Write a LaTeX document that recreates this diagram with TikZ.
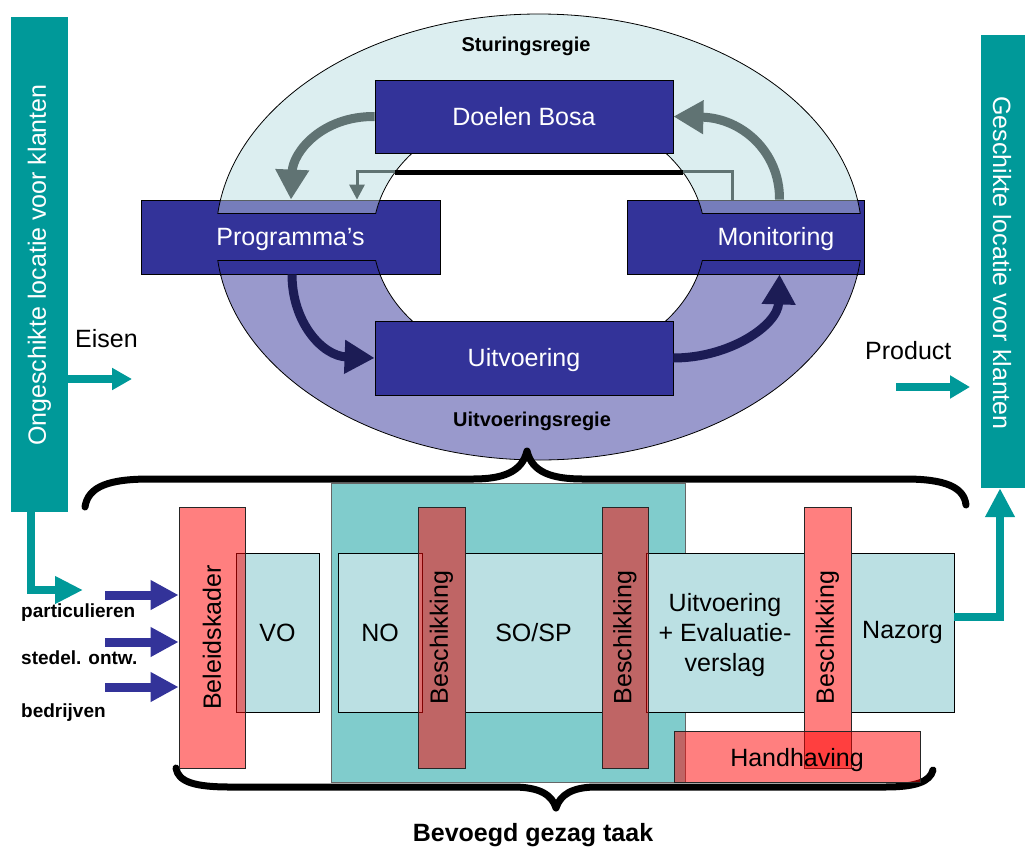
\documentclass[tikz,border=0pt]{standalone}
\usepackage{fontspec}
\setmainfont{Liberation Sans}
\usepackage{graphicx}
\usetikzlibrary{arrows.meta}
\definecolor{tealA}{HTML}{009999}
\definecolor{tealB}{HTML}{80CCCC}
\definecolor{boxlight}{HTML}{BBE0E3}
\definecolor{boxblue}{HTML}{333399}
\definecolor{ringlight}{HTML}{DCEEF0}
\definecolor{ringpurple}{HTML}{9999CC}
\definecolor{arrowgray}{HTML}{607373}
\definecolor{navyarrow}{HTML}{1C1C55}
\tikzset{
  bigfont/.style={font=\fontsize{25}{30}\selectfont},
  smallbold/.style={font=\fontsize{19}{22}\selectfont\bfseries},
  regiefont/.style={font=\fontsize{20}{24}\selectfont\bfseries},
  bluebox/.style={draw=black, line width=0.8pt, fill=boxblue, text=white, bigfont, inner sep=0pt},
  lightbox/.style={draw=black, line width=0.8pt, fill=boxlight, bigfont, inner sep=0pt, align=center},
  redbar/.style={draw=black!85, line width=0.8pt, fill=red, fill opacity=0.5, text opacity=1, bigfont, inner sep=0pt},
  tealbar/.style={fill=tealA, inner sep=0pt},
  ringp/.style={insert path={(539,237) ellipse [x radius=323pt, y radius=223pt] (539,237) ellipse [x radius=166pt, y radius=130pt]}},
  garrow/.style={draw=arrowgray, line width=9pt, -{Triangle[length=30pt,width=32pt]}},
  navyarr/.style={draw=navyarrow, line width=9pt, -{Triangle[length=30pt,width=32pt]}},
  thinarr/.style={draw=arrowgray, line width=3pt, -{Triangle[length=15pt,width=15pt]}},
  tealarr/.style={draw=tealA, line width=8pt, -{Triangle[length=20pt,width=21pt]}},
  bluearr/.style={draw=boxblue, line width=9pt, -{Triangle[length=28pt,width=28pt]}},
  bracestyle/.style={draw=black, line width=7pt, line cap=round, line join=round}
}
\newcommand{\lowertext}[2]{\raisebox{-#1}[\height][\depth]{#2}}
\begin{document}
\begin{tikzpicture}[x=1pt,y=-1pt]
\useasboundingbox (0,0) rectangle (1025,849);

% ---- ring ----
\begin{scope}
  \clip (0,0) rectangle (1025,237);
  \path[fill=ringlight, draw=black, line width=0.8pt, even odd rule, ringp];
\end{scope}
\begin{scope}
  \clip (0,237) rectangle (1025,849);
  \path[fill=ringpurple, draw=black, line width=0.8pt, even odd rule, ringp];
\end{scope}

% ---- blue boxes ----
\node[bluebox, minimum width=298pt, minimum height=73pt] (doelen) at (524,116.5) {Doelen Bosa};
\node[bluebox, minimum width=299pt, minimum height=74pt] (prog) at (290.5,237) {\lowertext{2.5pt}{Programma’s}};
\node[bluebox, minimum width=237pt, minimum height=74pt] (monit) at (745.5,237) {};
\node[text=white, bigfont, inner sep=0pt] (monittext) at (776,239) {Monitoring};
\node[bluebox, minimum width=298pt, minimum height=74pt] (uitv) at (524,358) {\lowertext{2.5pt}{Uitvoering}};

% ---- ring overlay on side boxes ----
\begin{scope}
  \clip (0,200) rectangle (1025,213);
  \path[fill=ringlight, fill opacity=0.4, draw=black, line width=0.8pt, even odd rule, ringp];
\end{scope}
\begin{scope}
  \clip (0,260) rectangle (1025,275);
  \path[draw=black, line width=0.8pt, ringp];
\end{scope}
\draw[line width=0.8pt] (217.9,213) -- (375.9,213) (702.1,213) -- (860.1,213);
\draw[line width=0.8pt] (217.7,260) -- (375.6,260) (702.4,260) -- (860.3,260);

% ---- feedback line ----
\draw[thinarr] ([xshift=-13.5pt]monit.north) -- ++(0,-28) -| ([xshift=66.5pt]prog.north);
\draw[line width=5pt] (395.2,172) -- (682.8,172);

% ---- cycle arrows ----
\draw[garrow] (doelen.west) .. controls (322,116) and (293,152) .. ([xshift=0.5pt]prog.north);
\draw[garrow] ([xshift=34pt]monit.north) .. controls (780,152) and (742,118) .. (doelen.east);
\draw[navyarr] ([xshift=1.5pt]prog.south) .. controls (292,322) and (322,356) .. (uitv.west);
\draw[navyarr] (uitv.east) .. controls (730,358) and (778,325) .. ([xshift=34pt]monit.south);

\node[regiefont] (sturing) at (526,46) {Sturingsregie};
\node[regiefont] (uitvregie) at (532,421) {Uitvoeringsregie};

% ---- side bars ----
\node[tealbar, minimum width=57pt, minimum height=495pt] (leftbar) at (39.5,264.5) {};
\node[text=white, bigfont, rotate=90] (lefttext) at (39.5,265) {Ongeschikte locatie voor klanten};
\node[tealbar, minimum width=44pt, minimum height=453pt] (rightbar) at (1003,261.5) {};
\node[text=white, bigfont, rotate=-90] (righttext) at (1002,263) {Geschikte locatie voor klanten};

\node[bigfont, anchor=base west, inner sep=0pt] (eisen) at (75,347) {Eisen};
\node[bigfont, anchor=base west, inner sep=0pt] (product) at (865,359) {Product};
\coordinate (eisentip) at (132,379);
\draw[tealarr] (leftbar.east |- eisentip) -- (eisentip);
\coordinate (prodstart) at (896,387);
\coordinate (prodtip) at (970,387);
\draw[tealarr, -{Triangle[length=20pt,width=22pt]}] (prodstart) -- (prodtip);

% ---- bottom section ----
\node[draw=black!60, line width=0.8pt, fill=tealB, minimum width=354pt, minimum height=299pt, inner sep=0pt] (tealarea) at (508,632.5) {};

\draw[bracestyle] (85,507) .. controls (88,486) and (110,479) .. (150,479) -- (473,479)
  .. controls (503,479) and (522,472) .. (527,451) .. controls (532,472) and (551,479) .. (583,479)
  -- (905,479) .. controls (945,479) and (964,487) .. (966,505);
\draw[bracestyle] (176,768) .. controls (178,782) and (195,787) .. (230,787) -- (513,787)
  .. controls (540,787) and (552,795) .. (556,808) .. controls (560,795) and (572,787) .. (596,787)
  -- (885,787) .. controls (915,787) and (930,782) .. (933,770);

\node[lightbox, minimum width=83pt, minimum height=159pt] (vo) at (277.5,632.5) {VO};
\node[lightbox, minimum width=84pt, minimum height=159pt] (no) at (380,632.5) {NO};
\node[lightbox, minimum width=137pt, minimum height=159pt] (sosp) at (533.5,632.5) {SO/SP};
\node[lightbox, minimum width=158pt, minimum height=159pt] (uitv2) at (725,632.5) {\lowertext{3pt}{\begin{tabular}{@{}c@{}}Uitvoering\\+ Evaluatie-\\verslag\end{tabular}}};
\node[lightbox, minimum width=103pt, minimum height=159pt] (nazorg) at (902.5,632.5) {Nazorg};

\node[redbar, minimum width=66pt, minimum height=261pt] (beleid) at (212,637.5) {\rotatebox{90}{Beleidskader}};
\node[redbar, minimum width=47pt, minimum height=261pt] (besch1) at (441.5,637.5) {\rotatebox{90}{Beschikking}};
\node[redbar, minimum width=46pt, minimum height=261pt] (besch2) at (625,637.5) {\rotatebox{90}{Beschikking}};
\node[redbar, minimum width=47pt, minimum height=261pt] (besch3) at (827.5,637.5) {\rotatebox{90}{Beschikking}};
\node[redbar, minimum width=246pt, minimum height=51pt] (handh) at (797,756.5) {\lowertext{4pt}{Handhaving}};

% ---- input arrows ----
\coordinate (b1) at (105,595);
\coordinate (b2) at (105,642);
\coordinate (b3) at (105,687);
\draw[bluearr] (b1) -- (b1 -| beleid.west);
\draw[bluearr] (b2) -- (b2 -| beleid.west);
\draw[bluearr] (b3) -- (b3 -| beleid.west);

\node[smallbold, anchor=base west, inner sep=0pt] (part) at (21,617) {particulieren};
\node[smallbold, anchor=base west, inner sep=0pt] (stedel) at (21,664) {stedel. ontw.};
\node[smallbold, anchor=base west, inner sep=0pt] (bedr) at (21,717) {bedrijven};

% ---- teal connectors ----
\coordinate (pconn) at (83,590);
\draw[tealarr, -{Triangle[length=28pt,width=26pt]}] ([xshift=-8.5pt]leftbar.south) |- (pconn);
\draw[tealarr, -{Triangle[length=29pt,width=28pt]}] ([yshift=15.5pt]nazorg.east) -| ([xshift=-3pt]rightbar.south);

\node[font=\fontsize{25}{30}\selectfont\bfseries] (bevoegd) at (533,835) {Bevoegd gezag taak};
\end{tikzpicture}
\end{document}
